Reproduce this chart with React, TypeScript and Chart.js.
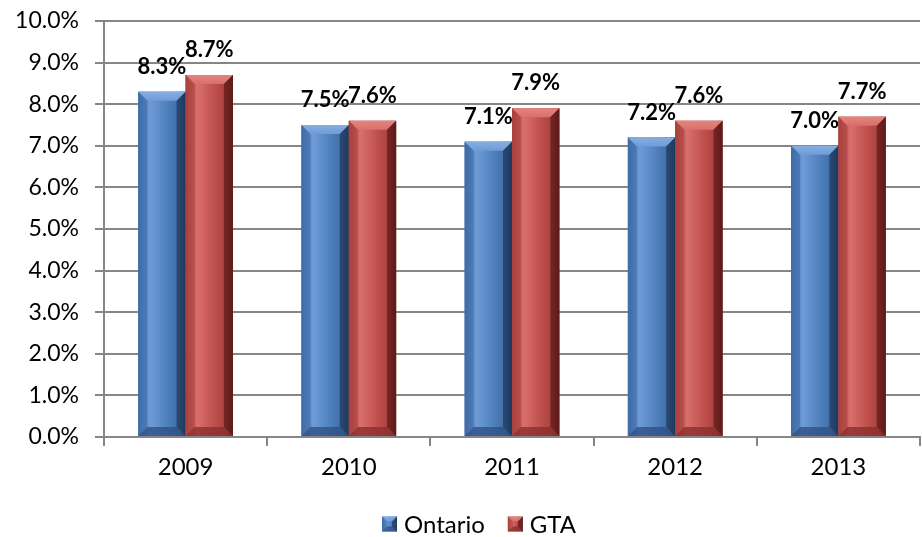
import React, { useEffect, useRef } from "react";
import { Chart, registerables } from "chart.js";

Chart.register(...registerables);

const years = ["2009", "2010", "2011", "2012", "2013"];
const ontario = [8.3, 7.5, 7.1, 7.2, 7.0];
const gta = [8.7, 7.6, 7.9, 7.6, 7.7];
const seriesNames = ["Ontario", "GTA"];
const yTicks = [0, 1, 2, 3, 4, 5, 6, 7, 8, 9, 10];

const FONT = "Lato, 'Open Sans', sans-serif";

const palettes = [
  { light: "#6f9bd8", base: "#4f81bd", mid: "#406da6", dark: "#203a5e", top: "#86aee2", bottom: "#2f5185" },
  { light: "#d96f6b", base: "#c0504d", mid: "#a8413e", dark: "#5e1b19", top: "#e2857f", bottom: "#8a302d" },
];

function drawBevel(ctx: CanvasRenderingContext2D, p: any, left: number, top: number, w: number, h: number, bevel: number) {
  const right = left + w;
  const bottom = top + h;
  const b = Math.min(bevel, h / 2, w / 2);
  ctx.save();
  const g = ctx.createLinearGradient(left, 0, right, 0);
  g.addColorStop(0, p.mid);
  g.addColorStop(0.25, p.light);
  g.addColorStop(0.6, p.base);
  g.addColorStop(0.85, p.mid);
  g.addColorStop(1, p.dark);
  ctx.fillStyle = g;
  ctx.fillRect(left, top, w, h);
  ctx.beginPath();
  ctx.moveTo(left, top);
  ctx.lineTo(right, top);
  ctx.lineTo(right - b, top + b);
  ctx.lineTo(left + b, top + b);
  ctx.closePath();
  const gt = ctx.createLinearGradient(0, top, 0, top + b);
  gt.addColorStop(0, p.top);
  gt.addColorStop(1, p.light);
  ctx.fillStyle = gt;
  ctx.fill();
  ctx.beginPath();
  ctx.moveTo(right, top);
  ctx.lineTo(right, bottom);
  ctx.lineTo(right - b, bottom - b);
  ctx.lineTo(right - b, top + b);
  ctx.closePath();
  ctx.fillStyle = p.dark;
  ctx.globalAlpha = 0.75;
  ctx.fill();
  ctx.beginPath();
  ctx.moveTo(left, top);
  ctx.lineTo(left + b, top + b);
  ctx.lineTo(left + b, bottom - b);
  ctx.lineTo(left, bottom);
  ctx.closePath();
  ctx.fillStyle = p.mid;
  ctx.globalAlpha = 0.6;
  ctx.fill();
  ctx.beginPath();
  ctx.moveTo(left, bottom);
  ctx.lineTo(left + b, bottom - b);
  ctx.lineTo(right - b, bottom - b);
  ctx.lineTo(right, bottom);
  ctx.closePath();
  ctx.fillStyle = p.bottom;
  ctx.globalAlpha = 0.8;
  ctx.fill();
  ctx.restore();
}

const bevelPlugin = {
  id: "bevelBars",
  afterDatasetsDraw(chart: any) {
    const ctx = chart.ctx;
    chart.data.datasets.forEach((ds: any, di: number) => {
      const meta = chart.getDatasetMeta(di);
      meta.data.forEach((el: any) => {
        drawBevel(ctx, palettes[di], el.x - el.width / 2, el.y, el.width, el.base - el.y, 9);
      });
    });
    ctx.save();
    ctx.font = "bold 22px " + FONT;
    ctx.fillStyle = "#000";
    ctx.textAlign = "center";
    ctx.textBaseline = "middle";
    chart.data.datasets.forEach((ds: any, di: number) => {
      const meta = chart.getDatasetMeta(di);
      meta.data.forEach((el: any, i: number) => {
        ctx.fillText(ds.data[i].toFixed(1) + "%", el.x, el.y - 25);
      });
    });
    ctx.restore();
  },
  afterDraw(chart: any) {
    const ctx = chart.ctx;
    ctx.save();
    ctx.font = "24px " + FONT;
    ctx.textBaseline = "middle";
    ctx.textAlign = "left";
    ctx.fillStyle = "#000";
    const box = 15;
    const gapText = 7;
    const gapItem = 23;
    const widths = seriesNames.map((n) => ctx.measureText(n).width);
    const total = widths.reduce((a, w) => a + box + gapText + w, 0) + gapItem * (seriesNames.length - 1);
    let x = chart.width / 2 + 18 - total / 2;
    const cy = 524;
    seriesNames.forEach((n, i) => {
      drawBevel(ctx, palettes[i], x, cy - box / 2, box, box, 5);
      ctx.fillStyle = "#000";
      ctx.fillText(n, x + box + gapText, cy + 1);
      x += box + gapText + widths[i] + gapItem;
    });
    ctx.restore();
  },
};

export default function App() {
  const ref = useRef<HTMLCanvasElement>(null);
  useEffect(() => {
    document.body.style.margin = "0";
    const chart = new Chart(ref.current!, {
      type: "bar",
      data: {
        labels: years,
        datasets: [
          { label: seriesNames[0], data: ontario, backgroundColor: "#4f81bd" },
          { label: seriesNames[1], data: gta, backgroundColor: "#c0504d" },
        ],
      },
      options: {
        responsive: false,
        animation: false,
        layout: { padding: { top: 21, right: 2, left: 0, bottom: 40 } },
        datasets: { bar: { categoryPercentage: 0.58, barPercentage: 1 } },
        plugins: {
          tooltip: { enabled: false },
          legend: { display: false },
        },
        scales: {
          y: {
            min: 0,
            max: 10,
            afterBuildTicks: (s: any) => {
              s.ticks = yTicks.map((v) => ({ value: v }));
            },
            afterFit: (s: any) => {
              s.width = 104;
              s.paddingTop = 0;
              s.paddingBottom = 0;
            },
            ticks: {
              callback: (v: any) => Number(v).toFixed(1) + "%",
              font: { size: 23, family: FONT },
              color: "#000",
              padding: 16,
            },
            grid: { color: "#868686", lineWidth: 2, tickLength: 9 },
            border: { color: "#868686", width: 2 },
          },
          x: {
            afterFit: (s: any) => {
              s.height = 60;
              s.paddingLeft = 0;
              s.paddingRight = 0;
            },
            ticks: { font: { size: 24, family: FONT }, color: "#000", padding: 7 },
            grid: { drawOnChartArea: false, color: "#868686", lineWidth: 2, tickLength: 9, offset: true },
            border: { color: "#868686", width: 2 },
          },
        },
      },
      plugins: [bevelPlugin],
    });
    return () => chart.destroy();
  }, []);
  return (
    <div style={{ width: 922, height: 537, background: "#fff" }}>
      <canvas ref={ref} width={922} height={537} />
    </div>
  );
}
